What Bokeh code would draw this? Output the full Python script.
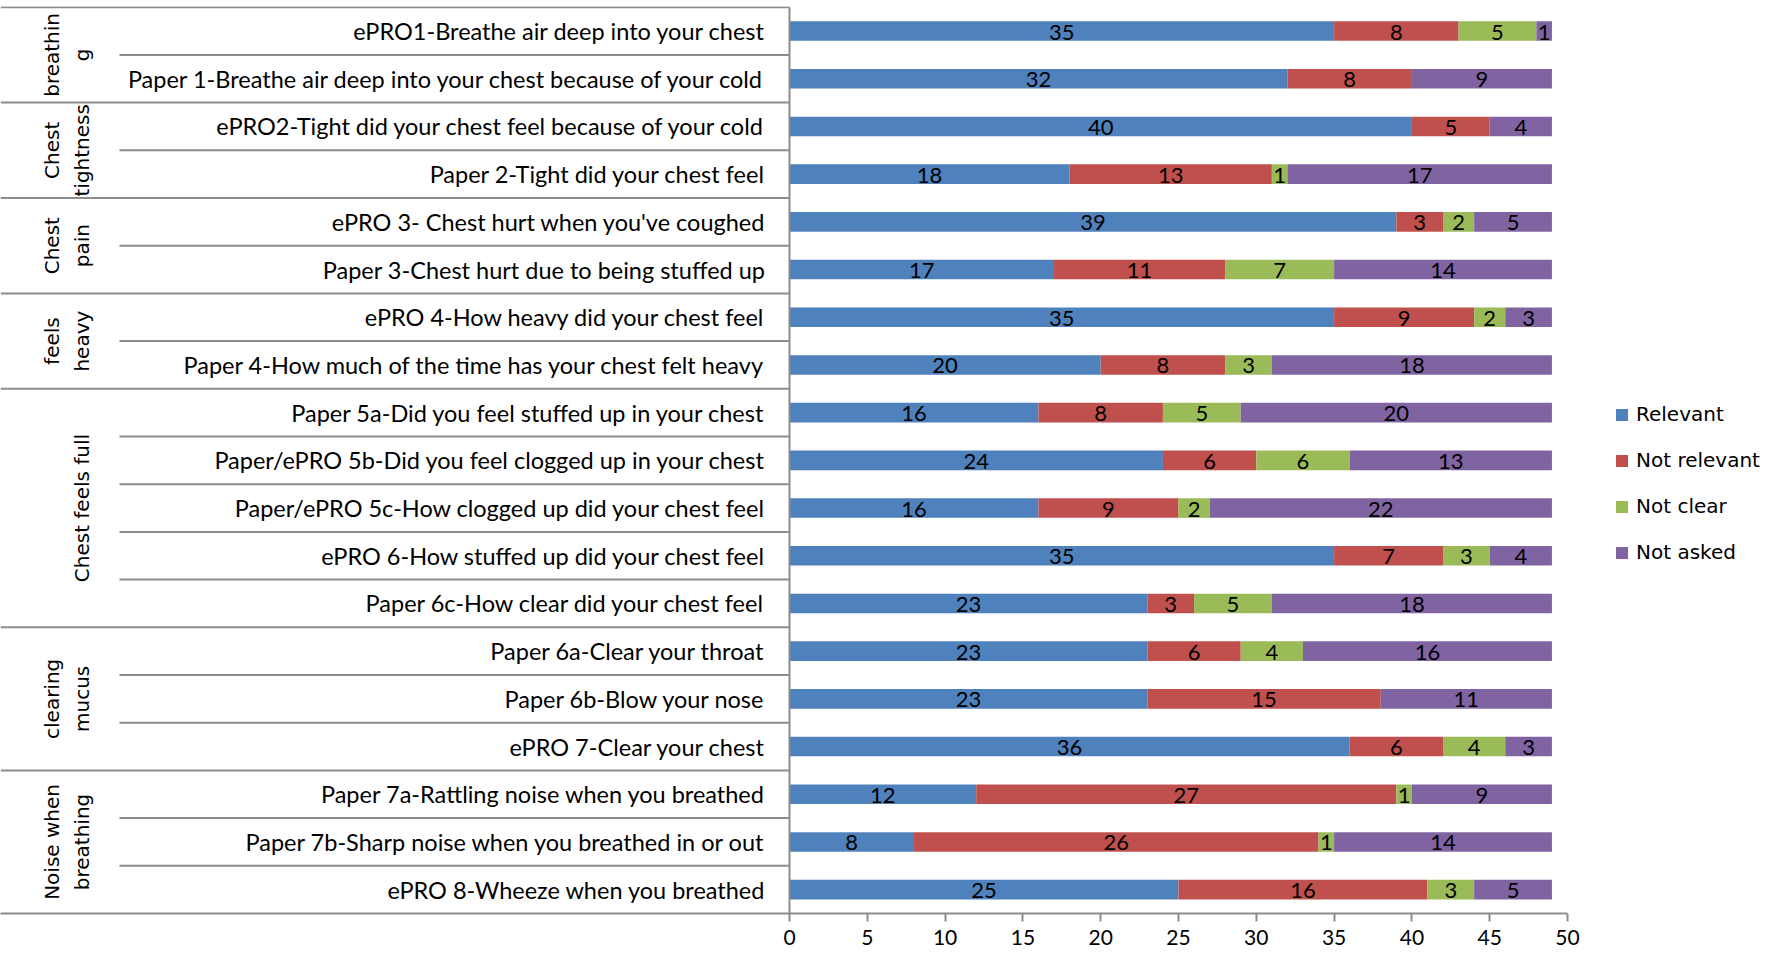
import math
from bokeh.plotting import figure
from bokeh.models import ColumnDataSource, Range1d, FixedTicker, Legend, LegendItem
from bokeh.core.properties import value
from bokeh.embed import file_html
from bokeh.resources import INLINE

# ---------------- data ----------------
items = [
    "ePRO1-Breathe air deep into your chest",
    "Paper 1-Breathe air deep into your chest because of your cold",
    "ePRO2-Tight did your chest feel because of your cold",
    "Paper 2-Tight did your chest feel",
    "ePRO 3- Chest hurt when you've coughed",
    "Paper 3-Chest hurt due to being stuffed up",
    "ePRO 4-How heavy did your chest feel",
    "Paper 4-How much of the time has your chest felt heavy",
    "Paper 5a-Did you feel stuffed up in your chest",
    "Paper/ePRO 5b-Did you feel clogged up in your chest",
    "Paper/ePRO 5c-How clogged up did your chest feel",
    "ePRO 6-How stuffed up did your chest feel",
    "Paper 6c-How clear did your chest feel",
    "Paper 6a-Clear your throat",
    "Paper 6b-Blow your nose",
    "ePRO 7-Clear your chest",
    "Paper 7a-Rattling noise when you breathed",
    "Paper 7b-Sharp noise when you breathed in or out",
    "ePRO 8-Wheeze when you breathed",
]
relevant     = [35, 32, 40, 18, 39, 17, 35, 20, 16, 24, 16, 35, 23, 23, 23, 36, 12, 8, 25]
not_relevant = [8, 8, 5, 13, 3, 11, 9, 8, 8, 6, 9, 7, 3, 6, 15, 6, 27, 26, 16]
not_clear    = [5, 0, 0, 1, 2, 7, 2, 3, 5, 6, 2, 3, 5, 4, 0, 4, 1, 1, 3]
not_asked    = [1, 9, 4, 17, 5, 14, 3, 18, 20, 13, 22, 4, 18, 16, 11, 3, 9, 14, 5]

series_names = ["Relevant", "Not relevant", "Not clear", "Not asked"]
colors = ["#4F81BD", "#C0504D", "#9BBB59", "#8064A2"]

group_line1 = ["breathin", "Chest", "Chest", "feels", "", "clearing", "Noise when"]
group_line2 = ["g", "tightness", "pain", "heavy", "Chest feels full", "mucus", "breathing"]
group_sizes = [2, 2, 2, 2, 5, 3, 3]

x_ticks = [0, 5, 10, 15, 20, 25, 30, 35, 40, 45, 50]
x_max = 50

# ---------------- layout constants (pixels) ----------------
FRAME_W = 1763
TOP_PX = 6             # frame top
ROW_PX = 47.7
BOTTOM_PX = 46         # room for axis ticks and labels
X0_PX = 789            # pixel of value 0
PX_PER_UNIT = 15.56
SUB_LINE_PX = 119      # left start of within-group separators
LABEL_GAP = 24
G1_PX, G2_PX = 51, 81  # centres of the two group-label lines
LINE_COLOR = "#8c8c8c"
CAL = value("Lato")
SANS = value("DejaVu Sans")

def px_to_x(px):
    return (px - X0_PX) / PX_PER_UNIT

n = len(items)
FRAME_H = int(round(n * ROW_PX + 1))
x_start = px_to_x(0)
x_end = px_to_x(FRAME_W)
y_end = FRAME_H / ROW_PX

p = figure(frame_width=FRAME_W, frame_height=FRAME_H,
           x_range=Range1d(x_start, x_end), y_range=Range1d(0, y_end),
           output_backend="svg", toolbar_location=None,
           min_border_left=0, min_border_right=0, min_border_top=TOP_PX,
           min_border_bottom=BOTTOM_PX, y_axis_location=None)
p.outline_line_color = None
p.grid.visible = False
p.background_fill_color = "white"

# stacked bars
ys = [n - i - 0.5 for i in range(n)]
src = ColumnDataSource(dict(y=ys, Relevant=relevant, **{"Not relevant": not_relevant},
                            **{"Not clear": not_clear}, **{"Not asked": not_asked}))
renderers = p.hbar_stack(series_names, y="y", height=0.41, color=colors, source=src,
                         line_color=None)

# bar value labels
lx, ly, lt = [], [], []
for i in range(n):
    left = 0
    for vals in (relevant, not_relevant, not_clear, not_asked):
        v = vals[i]
        if v > 0:
            lx.append(left + v / 2)
            ly.append(ys[i])
            lt.append(str(v))
        left += v
p.text(x=lx, y=ly, text=lt, text_align="center", text_baseline="middle",
       text_font=CAL, text_font_size="22px", text_color="black", y_offset=1)

# category labels
p.text(x=[0] * n, y=ys, text=items, x_offset=-LABEL_GAP, text_align="right",
       text_baseline="middle", text_font=CAL, text_font_size="23.5px", text_color="black")

# table lines
bounds = [0]
for s in group_sizes:
    bounds.append(bounds[-1] + s)
gx0, gy0, gx1, gy1 = [], [], [], []
for b in bounds[:-1]:
    y = n - b
    gx0.append(x_start); gx1.append(0); gy0.append(y); gy1.append(y)
sx0, sy0, sx1, sy1 = [], [], [], []
for k in range(1, n):
    if k not in bounds:
        y = n - k
        sx0.append(px_to_x(SUB_LINE_PX)); sx1.append(0); sy0.append(y); sy1.append(y)
p.segment(x0=gx0, y0=gy0, x1=gx1, y1=gy1, line_color=LINE_COLOR, line_width=2)
p.segment(x0=sx0, y0=sy0, x1=sx1, y1=sy1, line_color=LINE_COLOR, line_width=2)
p.segment(x0=[0], y0=[0], x1=[0], y1=[n], line_color=LINE_COLOR, line_width=2)

# group labels (rotated)
gcy = []
for gi in range(len(group_sizes)):
    gcy.append(n - (bounds[gi] + bounds[gi + 1]) / 2)
p.text(x=[px_to_x(G1_PX)] * len(gcy), y=gcy, text=group_line1, angle=math.pi / 2,
       text_align="center", text_baseline="middle", text_font=SANS,
       text_font_size="20px", text_color="black")
p.text(x=[px_to_x(G2_PX)] * len(gcy), y=gcy, text=group_line2, angle=math.pi / 2,
       text_align="center", text_baseline="middle", text_font=SANS,
       text_font_size="20px", text_color="black")

# x axis
xa = p.xaxis[0]
xa.ticker = FixedTicker(ticks=x_ticks)
xa.bounds = (x_start, x_max)
xa.axis_line_color = LINE_COLOR
xa.axis_line_width = 2
xa.major_tick_line_color = LINE_COLOR
xa.major_tick_line_width = 2
xa.major_tick_out = 8
xa.major_tick_in = 0
xa.minor_tick_line_color = None
xa.major_label_standoff = 8
xa.major_label_text_font = "Lato"
xa.major_label_text_font_size = "21px"
xa.major_label_text_color = "black"

# legend (location = bottom-left corner, measured from frame bottom-left)
LEG_X = 1614
LEG_BOTTOM = 565
legend = Legend(items=[LegendItem(label=nm, renderers=[r]) for nm, r in zip(series_names, renderers)],
                location=(LEG_X, TOP_PX + FRAME_H - LEG_BOTTOM), orientation="vertical",
                glyph_width=15, glyph_height=15, label_height=26, label_standoff=7,
                spacing=20, padding=0, margin=0, border_line_color=None,
                background_fill_alpha=0, label_text_font="DejaVu Sans",
                label_text_font_size="20px", label_text_color="black")
p.add_layout(legend)

open("out.html", "w").write(file_html(p, INLINE))
